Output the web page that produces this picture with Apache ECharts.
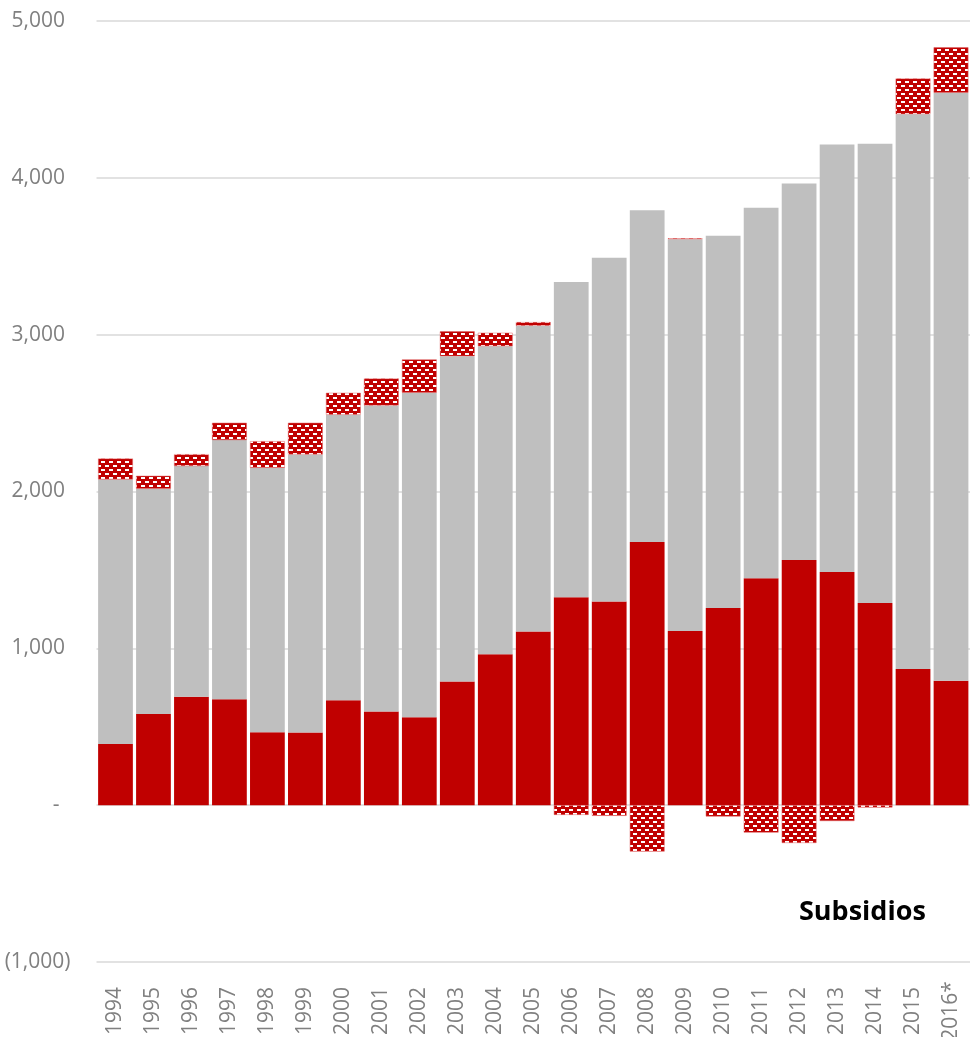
<!DOCTYPE html>
<html>
<head>
<meta charset="utf-8">
<script src="https://cdn.jsdelivr.net/npm/echarts@6/dist/echarts.min.js"></script>
<style>
html,body{margin:0;padding:0;background:#fff;}
#chart{width:970px;height:1037px;}
</style>
</head>
<body>
<div id="chart"></div>
<script>
// ---- data ----
var years = ['1994','1995','1996','1997','1998','1999','2000','2001','2002','2003','2004','2005','2006','2007','2008','2009','2010','2011','2012','2013','2014','2015','2016*'];
var redPart = [390, 581, 691, 675, 465, 463, 669, 597, 560, 789, 963, 1107, 1326, 1298, 1678, 1110, 1257, 1447, 1564, 1487, 1289, 868, 794];
var grayPart = [1687, 1436, 1471, 1653, 1686, 1773, 1820, 1951, 2070, 2074, 1963, 1950, 2010, 2193, 2116, 2499, 2373, 2362, 2400, 2726, 2928, 3538, 3749];
var subsidios = [134, 83, 76, 110, 170, 202, 140, 173, 212, 158, 86, 23, -62, -68, -296, 5, -72, -175, -241, -101, -15, 228, 289];
var yTicks = { min: -1000, max: 5000, interval: 1000 };

// ---- pattern for hatched series ----
function makePattern() {
  var c = document.createElement('canvas');
  c.width = 8; c.height = 8;
  var ctx = c.getContext('2d');
  ctx.fillStyle = '#c00000';
  ctx.fillRect(0, 0, 8, 8);
  ctx.fillStyle = '#ffffff';
  ctx.fillRect(1, 1, 4, 2);
  ctx.fillRect(5, 5, 3, 2);
  ctx.fillRect(0, 5, 1, 2);
  return c;
}

function fmt(v) {
  if (v === 0) return '-  ';
  var s = Math.abs(v).toString().replace(/\B(?=(\d{3})+(?!\d))/g, ',');
  return v < 0 ? '(' + s + ')' : s + ' ';
}

var chart = echarts.init(document.getElementById('chart'), null, { renderer: 'canvas' });
var font = '"Open Sans", "Noto Sans", sans-serif';
chart.setOption({
  animation: false,
  backgroundColor: '#ffffff',
  grid: { left: 96.5, right: 0, top: 21, bottom: 75, containLabel: false, outerBoundsMode: 'none' },
  xAxis: {
    type: 'category',
    data: years,
    axisLine: { show: false, onZero: false },
    axisTick: { show: false },
    axisLabel: { rotate: 90, margin: 49, align: 'center', verticalAlign: 'middle',
      color: '#808080', fontSize: 21, fontFamily: font, interval: 0 }
  },
  yAxis: {
    type: 'value',
    min: yTicks.min, max: yTicks.max, interval: yTicks.interval,
    axisLine: { show: false },
    axisTick: { show: false },
    axisLabel: { margin: 26, color: '#808080', fontSize: 21, fontFamily: font, formatter: fmt },
    splitLine: { lineStyle: { color: '#d9d9d9', width: 1.5 } }
  },
  graphic: [{
    type: 'text', left: 799, top: 899,
    style: { text: 'Subsidios', font: 'bold 27px ' + font, fill: '#000000' }
  }],
  series: [
    { name: 'Base', type: 'bar', stack: 'total', data: redPart, barCategoryGap: '8.5%',
      itemStyle: { color: '#c00000' } },
    { name: 'Otros', type: 'bar', stack: 'total', data: grayPart,
      itemStyle: { color: '#bfbfbf' } },
    { name: 'Subsidios', type: 'bar', stack: 'total', data: subsidios,
      itemStyle: { color: { image: makePattern(), repeat: 'repeat' }, borderColor: '#e06060', borderWidth: 0.5 } }
  ]
});
</script>
</body>
</html>
